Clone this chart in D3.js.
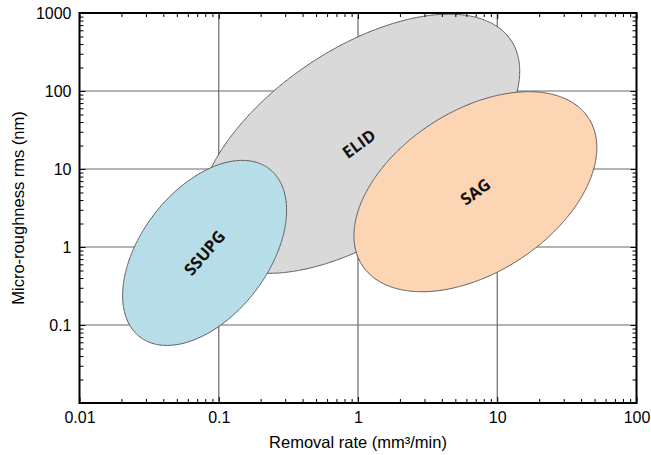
<!DOCTYPE html>
<html>
<head>
<meta charset="utf-8">
<script src="https://cdn.jsdelivr.net/npm/d3@7"></script>
<style>
  html, body { margin: 0; padding: 0; background: #ffffff; }
  svg { display: block; }
</style>
</head>
<body>
<svg id="chart" width="651" height="455"></svg>
<script>
// ---- data ----
const processes = ["ELID", "SSUPG", "SAG"];
const rateMin   = [0.071, 0.0204, 0.935];   // mm^3/min (left extreme)
const rateMax   = [14.5, 0.307, 51.9];      // mm^3/min (right extreme)
const roughMin  = [0.46, 0.0547, 0.267];    // nm (bottom extreme)
const roughMax  = [966, 12.9, 98];          // nm (top extreme)
const tilt      = [0.56, 0.46, 0.44];       // log-log correlation of the region
const xTickValues = [0.01, 0.1, 1, 10, 100];
const xTickLabels = ["0.01", "0.1", "1", "10", "100"];
const yTickValues = [0.1, 1, 10, 100, 1000];
const yTickLabels = ["0.1", "1", "10", "100", "1000"];

// ---- styles ----
const fills = {ELID: "#d9d9d9", SSUPG: "#b7dee8", SAG: "#fcd5b5"};
const labelAngle = {ELID: -36, SSUPG: -49, SAG: -36};
const drawOrder = ["ELID", "SSUPG", "SAG"];

const svg = d3.select("#chart");
const L = 79.5, R = 636.5, T = 13, B = 403;
const x = d3.scaleLog().domain([0.01, 100]).range([L, R]);
const y = d3.scaleLog().domain([0.01, 1000]).range([B, T]);

// grid
const grid = svg.append("g");
grid.selectAll("line.gx").data(xTickValues.slice(1, -1)).join("line")
  .attr("x1", d => x(d)).attr("x2", d => x(d)).attr("y1", T).attr("y2", B)
  .attr("stroke", "#6a6a6a").attr("stroke-width", 1.2);
grid.selectAll("line.gy").data(yTickValues.slice(0, -1)).join("line")
  .attr("y1", d => y(d)).attr("y2", d => y(d)).attr("x1", L).attr("x2", R)
  .attr("stroke", "#6a6a6a").attr("stroke-width", 1.2);

// ellipses (in log-log space)
function ellipsePath(i) {
  const lx0 = Math.log10(rateMin[i]), lx1 = Math.log10(rateMax[i]);
  const ly0 = Math.log10(roughMin[i]), ly1 = Math.log10(roughMax[i]);
  const cx = (lx0 + lx1) / 2, cy = (ly0 + ly1) / 2;
  const w = (lx1 - lx0) / 2, h = (ly1 - ly0) / 2;
  const phi = Math.acos(tilt[i]);
  const pts = d3.range(0, 361, 2).map(deg => {
    const t = deg * Math.PI / 180;
    return [x(Math.pow(10, cx + w * Math.cos(t))), y(Math.pow(10, cy + h * Math.cos(t + phi)))];
  });
  return d3.line().curve(d3.curveCardinalClosed.tension(0.5))(pts.slice(0, -1));
}
function center(i) {
  const cx = Math.sqrt(rateMin[i] * rateMax[i]);
  const cy = Math.sqrt(roughMin[i] * roughMax[i]);
  return [x(cx), y(cy)];
}

const shapes = svg.append("g");
drawOrder.forEach(name => {
  const i = processes.indexOf(name);
  shapes.append("path").attr("d", ellipsePath(i))
    .attr("fill", fills[name]).attr("stroke", "#5a5a5a").attr("stroke-width", 1);
});
drawOrder.forEach(name => {
  const i = processes.indexOf(name);
  const c = center(i);
  shapes.append("text")
    .attr("transform", `translate(${c[0]},${c[1]}) rotate(${labelAngle[name]})`)
    .attr("text-anchor", "middle").attr("dy", "0.36em")
    .attr("font-family", "'Open Sans', Lato, sans-serif").attr("font-weight", 700)
    .attr("font-size", 16.5).attr("fill", "#111")
    .text(name);
});

// minor ticks (inward, all four sides)
const minorX = [], minorY = [];
for (let e = -2; e < 2; e++) for (let k = 2; k <= 9; k++) minorX.push(k * Math.pow(10, e));
for (let e = -2; e < 3; e++) for (let k = 2; k <= 9; k++) minorY.push(k * Math.pow(10, e));

function tickAxis(axis, tx, ty, size) {
  const g = svg.append("g").attr("transform", `translate(${tx},${ty})`).call(axis.tickSize(size).tickFormat(""));
  g.select(".domain").remove();
  g.selectAll("line").attr("stroke", "#000").attr("stroke-width", 1);
}
tickAxis(d3.axisBottom(x).tickValues(minorX), 0, B, -4);
tickAxis(d3.axisTop(x).tickValues(minorX), 0, T, -4);
tickAxis(d3.axisLeft(y).tickValues(minorY), L, 0, -4);
tickAxis(d3.axisRight(y).tickValues(minorY), R, 0, -4);
tickAxis(d3.axisBottom(x).tickValues(xTickValues), 0, B, -6);
tickAxis(d3.axisTop(x).tickValues(xTickValues), 0, T, -6);
tickAxis(d3.axisLeft(y).tickValues(yTickValues.concat([0.01])), L, 0, -6);
tickAxis(d3.axisRight(y).tickValues(yTickValues.concat([0.01])), R, 0, -6);

// tick labels
const xl = svg.append("g").attr("transform", `translate(0,${B})`)
  .call(d3.axisBottom(x).tickValues(xTickValues).tickSize(0).tickPadding(9)
    .tickFormat((d, i) => xTickLabels[i]));
xl.select(".domain").remove();
xl.selectAll("text").attr("font-family", "'Liberation Sans', Arial, sans-serif")
  .attr("font-size", 16).attr("fill", "#000");

const yl = svg.append("g").attr("transform", `translate(${L},0)`)
  .call(d3.axisLeft(y).tickValues(yTickValues).tickSize(0).tickPadding(8)
    .tickFormat((d, i) => yTickLabels[i]));
yl.select(".domain").remove();
yl.selectAll("text").attr("font-family", "'Liberation Sans', Arial, sans-serif")
  .attr("font-size", 16).attr("fill", "#000");

// frame
svg.append("rect").attr("x", L).attr("y", T).attr("width", R - L).attr("height", B - T)
  .attr("fill", "none").attr("stroke", "#000").attr("stroke-width", 2);

// axis titles
svg.append("text").attr("x", (L + R) / 2).attr("y", 448)
  .attr("text-anchor", "middle")
  .attr("font-family", "'Liberation Sans', Arial, sans-serif").attr("font-size", 16.5)
  .text("Removal rate (mm³/min)");
svg.append("text").attr("transform", `translate(24,${(T + B) / 2}) rotate(-90)`)
  .attr("text-anchor", "middle")
  .attr("font-family", "'Liberation Sans', Arial, sans-serif").attr("font-size", 16.5)
  .text("Micro-roughness rms (nm)");
</script>
</body>
</html>
